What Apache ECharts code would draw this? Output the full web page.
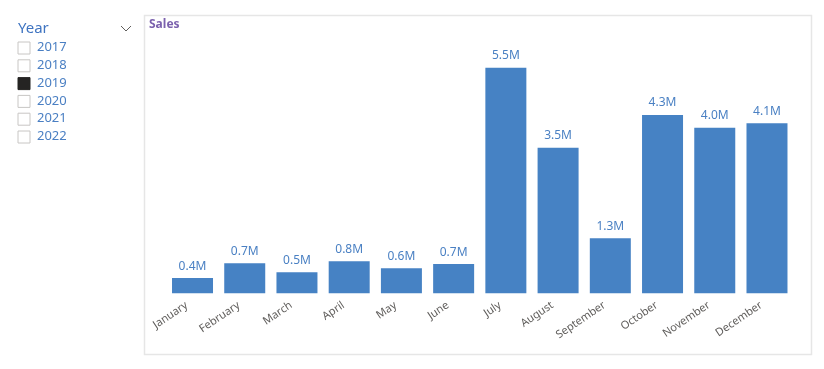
<!DOCTYPE html>
<html>
<head>
<meta charset="utf-8">
<script src="https://cdn.jsdelivr.net/npm/echarts@6/dist/echarts.min.js"></script>
<style>
html,body{margin:0;padding:0;background:#fff;}
#c{width:824px;height:369px;}
</style>
</head>
<body>
<div id="c"></div>
<script>
var months = ['January','February','March','April','May','June','July','August','September','October','November','December'];
var sales = [370000, 730000, 510000, 780000, 610000, 710000, 5490000, 3540000, 1340000, 4340000, 4030000, 4140000];
var years = ['2017','2018','2019','2020','2021','2022'];
var selectedYear = '2019';
var slicerTitle = 'Year';
var chartTitle = 'Sales';

var FONT = "'Segoe UI','Noto Sans','Open Sans',sans-serif";
var chart = echarts.init(document.getElementById('c'), null, {renderer:'canvas'});

var graphics = [
  {type:'rect', shape:{x:144.5, y:15.5, width:667, height:339}, style:{fill:'none', stroke:'#E6E6E6', lineWidth:1.5}, silent:true, z:-1},
  {type:'text', left:18, top:21, style:{text:slicerTitle, fill:'#3F74C1', font:'15px ' + FONT}},
  {type:'polyline', shape:{points:[[121,26],[126,31],[131,26]]}, style:{stroke:'#605E5C', lineWidth:1, fill:'none'}}
];
years.forEach(function(y, i){
  var top = 42 + i * 17.8;
  var sel = y === selectedYear;
  graphics.push({type:'rect', shape:{x:18, y:top, width:12, height:12},
    style:{fill: sel ? '#252423' : '#fff', stroke: sel ? '#252423' : '#C8C6C4', lineWidth:1}});
  graphics.push({type:'text', left:37, top:top - 1, style:{text:y, fill:'#4A7FC3', font:'13px ' + FONT}});
});

chart.setOption({
  animation:false,
  title:{text:chartTitle, left:149, top:19, padding:0, textStyle:{color:'#7C62AE', fontSize:12, fontWeight:'bold', fontFamily:FONT}},
  grid:{left:166.4, right:30.9, top:46.7, bottom:75.7, containLabel:false},
  xAxis:{type:'category', data:months,
    axisLine:{show:false}, axisTick:{show:false},
    axisLabel:{rotate:34, interval:0, margin:7, padding:[0,7,0,0], color:'#605E5C', fontSize:11, fontFamily:FONT}},
  yAxis:{type:'value', min:0, max:6000000, show:false, splitLine:{show:false}},
  series:[{type:'bar', data:sales, barWidth:41,
    itemStyle:{color:'#4682C4'},
    label:{show:true, position:'top', distance:6, color:'#4A80C3', fontSize:12, fontFamily:FONT,
      formatter:function(p){return (p.value/1e6).toFixed(1) + 'M';}}
  }],
  graphic:graphics
});
</script>
</body>
</html>
